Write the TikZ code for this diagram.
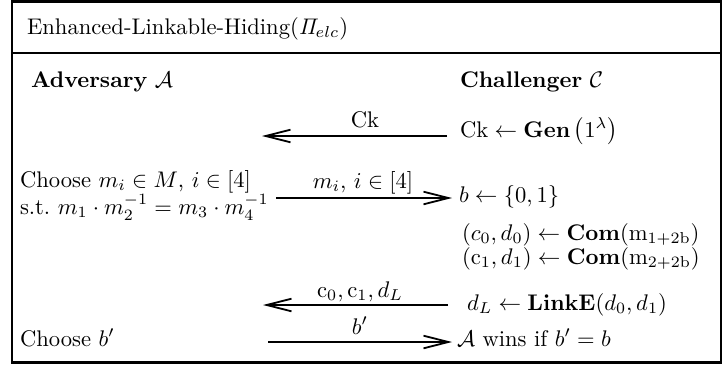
\documentclass[tikz,border=0pt]{standalone}
\usepackage{amsmath,amssymb}
\usetikzlibrary{arrows.meta}
\begin{document}
\begin{tikzpicture}[x=0.4425pt,y=-0.4425pt,
  txt/.style={anchor=base west,inner sep=0pt,outer sep=0pt},
  lbl/.style={anchor=base,inner sep=0pt,outer sep=0pt},
  msg/.style={line width=0.8pt,-{Straight Barb[length=11pt,width=5.6pt,line width=0.8pt]}},
  frame/.style={line width=0.9pt}]
\useasboundingbox (0,0) rectangle (722,364);
\draw[frame] (12,1.5) rectangle (720.5,362.5);
\draw[frame] (12,53) -- (720.5,53);
\node[txt] (title) at (27,34) {Enhanced-Linkable-Hiding$(\mathit{\Pi}_{elc})$};
\node[txt] (adv) at (31,87) {\textbf{Adversary} $\mathcal{A}$};
\node[txt] (chal) at (460,87) {\textbf{Challenger} $\mathcal{C}$};
% step 1
\coordinate (a1s) at (447,136);
\coordinate (a1e) at (262,136);
\draw[msg] (a1s) -- (a1e);
\node[lbl] (l1) at (365,127) {$\mathrm{Ck}$};
\node[txt] (gen) at (460,137) {$\mathrm{Ck}\leftarrow\mathbf{Gen}\,\bigl(1^{\lambda}\bigr)$};
% step 2
\node[txt] (ch1) at (20,187) {Choose $m_i\in M$, $i\in[4]$};
\node[txt] (ch2) at (20,214) {s.t.\ $m_1\cdot m_2^{-1}=m_3\cdot m_4^{-1}$};
\coordinate (a2s) at (276,198);
\coordinate (a2e) at (452,198);
\draw[msg] (a2s) -- (a2e);
\node[lbl] (l2) at (363,188) {$m_i,\,i\in[4]$};
\node[txt] (bb) at (459,202) {$b\leftarrow\{0,1\}$};
\node[txt] (com1) at (462,240) {$(c_0,d_0)\leftarrow\mathbf{Com}(\mathrm{m}_{1+2\mathrm{b}})$};
\node[txt] (com2) at (462,264) {$(\mathrm{c}_1,d_1)\leftarrow\mathbf{Com}(\mathrm{m}_{2+2\mathrm{b}})$};
% step 3
\coordinate (a3s) at (448,305);
\coordinate (a3e) at (263,305);
\draw[msg] (a3s) -- (a3e);
\node[lbl] (l3) at (360,297) {$\mathrm{c}_0,\mathrm{c}_1,d_L$};
\node[txt] (link) at (467,310) {$d_L\leftarrow\mathbf{LinkE}(d_0,d_1)$};
% step 4
\node[txt] (chb) at (20,346) {Choose $b'$};
\coordinate (a4s) at (268,342);
\coordinate (a4e) at (452,342);
\draw[msg] (a4s) -- (a4e);
\node[lbl] (l4) at (360,334) {$b'$};
\node[txt] (win) at (457,346) {$\mathcal{A}$ wins if $b'=b$};
\end{tikzpicture}
\end{document}
